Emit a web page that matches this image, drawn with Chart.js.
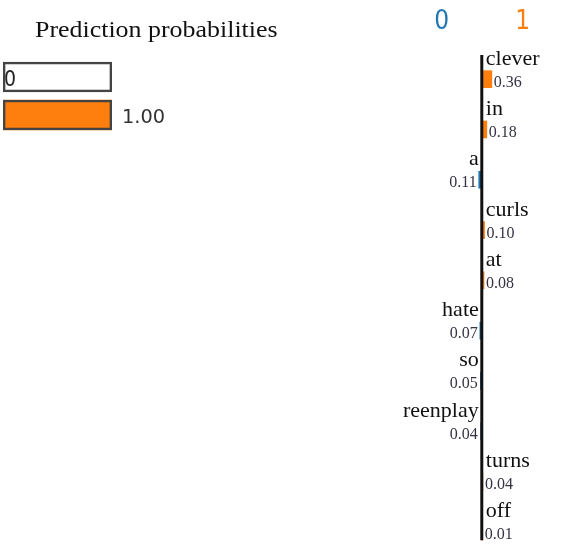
<!DOCTYPE html>
<html>
<head>
<meta charset="utf-8">
<script src="https://cdn.jsdelivr.net/npm/chart.js@4.4.0/dist/chart.umd.min.js"></script>
<style>
    html, body { margin: 0; padding: 0; overflow: hidden; background: #fff; width: 574px; height: 551px; }
    #probChart { position: absolute; left: 0; top: 0; }
    #expChart { position: absolute; left: 384px; top: 0; }
</style>
</head>
<body>
<canvas id="probChart" width="300" height="140"></canvas>
<canvas id="expChart" width="190" height="557"></canvas>
<script>
// prediction probabilities
const classNames = ['0', '1'];
const probs = [0.00, 1.00];

// feature weights (negative = class 0, positive = class 1)
const features = ['clever', 'in', 'a', 'curls', 'at', 'hate', 'so', 'reenplay', 'turns', 'off'];
const weights = [0.36, 0.18, -0.11, 0.10, 0.08, -0.07, -0.05, -0.04, 0.04, 0.01];

const ORANGE = '#ff7f0e';
const BLUE = '#1f77b4';
const SERIF = '"Liberation Serif", "DejaVu Serif", serif';
const SANS = '"DejaVu Sans", sans-serif';

// text looks a bit wide in the picture, so stretch it horizontally
function stretchText(ctx, text, x, y, align, sx) {
    ctx.save();
    ctx.translate(x, y);
    ctx.scale(sx, 1);
    ctx.textAlign = align;
    ctx.textBaseline = 'alphabetic';
    ctx.fillText(text, 0, 0);
    ctx.restore();
}

const probLabels = {
    id: 'probLabels',
    beforeDatasetsDraw(chart) {
        const ctx = chart.ctx;
        ctx.fillStyle = '#111';
        ctx.font = '24px ' + SERIF;
        stretchText(ctx, 'Prediction probabilities', 35, 37, 'left', 1.08);

        // class names sit inside the frames, the filled bar covers them
        const frames = chart.getDatasetMeta(1).data;
        ctx.font = '21px ' + SANS;
        ctx.fillStyle = '#222';
        frames.forEach((bar, i) => {
            stretchText(ctx, classNames[i], bar.base + 1, bar.y + 9, 'left', 0.9);
        });
    },
    afterDatasetsDraw(chart) {
        const ctx = chart.ctx;
        const frames = chart.getDatasetMeta(1).data;
        ctx.font = '20px ' + SANS;
        ctx.fillStyle = '#333';
        frames.forEach((bar, i) => {
            if (probs[i] > 0) {
                stretchText(ctx, probs[i].toFixed(2), bar.x + 10, bar.y + 8, 'left', 0.97);
            }
        });
    }
};

new Chart(document.getElementById('probChart').getContext('2d'), {
    type: 'bar',
    data: {
        labels: classNames,
        datasets: [{
            data: probs,
            backgroundColor: classNames.map((c, i) => i === 0 ? BLUE : ORANGE),
            borderWidth: 0,
            barThickness: 30,
            grouped: false,
            order: 1
        }, {
            // outline of each probability bar
            data: classNames.map(() => 1),
            backgroundColor: 'rgba(0,0,0,0)',
            borderColor: '#444',
            borderWidth: 2,
            borderSkipped: false,
            barThickness: 30,
            grouped: false,
            order: 0
        }]
    },
    options: {
        indexAxis: 'y',
        responsive: false,
        animation: false,
        devicePixelRatio: 1,
        layout: { padding: { left: 3, right: 188, top: 58, bottom: 6 } },
        scales: {
            x: { type: 'linear', min: 0, max: 1, display: false },
            y: { display: false }
        },
        plugins: { legend: { display: false }, tooltip: { enabled: false } }
    },
    plugins: [probLabels]
});

const expLabels = {
    id: 'expLabels',
    afterDatasetsDraw(chart) {
        const ctx = chart.ctx;
        const zero = chart.scales.x.getPixelForValue(0);
        const bars = chart.getDatasetMeta(0).data;

        // class headers
        ctx.font = '26px ' + SANS;
        ctx.fillStyle = BLUE;
        stretchText(ctx, '0', zero - 40, 29, 'center', 0.9);
        ctx.fillStyle = ORANGE;
        stretchText(ctx, '1', zero + 41, 29, 'center', 0.9);

        bars.forEach((bar, i) => {
            const top = bar.y - bar.height / 2;
            const bottom = bar.y + bar.height / 2;
            const w = weights[i];
            const txt = Math.abs(w).toFixed(2);
            ctx.fillStyle = '#111';
            ctx.font = '21px ' + SERIF;
            if (w >= 0) {
                stretchText(ctx, features[i], zero + 4, top - 6, 'left', 1.05);
                ctx.font = '16px ' + SERIF;
                ctx.fillStyle = '#334';
                stretchText(ctx, txt, Math.max(bar.x, zero + 1) + 2, bottom - 1, 'left', 1.0);
            } else {
                stretchText(ctx, features[i], zero - 3, top - 6, 'right', 1.05);
                ctx.font = '16px ' + SERIF;
                ctx.fillStyle = '#334';
                stretchText(ctx, txt, Math.min(bar.x, zero - 2) - 2, bottom - 1, 'right', 1.0);
            }
        });

        // the zero axis line
        const last = bars[bars.length - 1];
        ctx.save();
        ctx.strokeStyle = '#111';
        ctx.lineWidth = 3;
        ctx.beginPath();
        ctx.moveTo(zero, chart.chartArea.top + 1);
        ctx.lineTo(zero, last.y + last.height / 2);
        ctx.stroke();
        ctx.restore();
    }
};

new Chart(document.getElementById('expChart').getContext('2d'), {
    type: 'bar',
    data: {
        labels: features,
        datasets: [{
            data: weights,
            backgroundColor: weights.map(w => w < 0 ? BLUE : ORANGE),
            borderWidth: 0,
            barThickness: 17
        }]
    },
    options: {
        indexAxis: 'y',
        responsive: false,
        animation: false,
        devicePixelRatio: 1,
        layout: { padding: { left: 0, right: 0, top: 54, bottom: 0 } },
        scales: {
            x: { type: 'linear', min: -3.5, max: 3.3, display: false },
            y: { display: false }
        },
        plugins: { legend: { display: false }, tooltip: { enabled: false } }
    },
    plugins: [expLabels]
});
</script>
</body>
</html>
